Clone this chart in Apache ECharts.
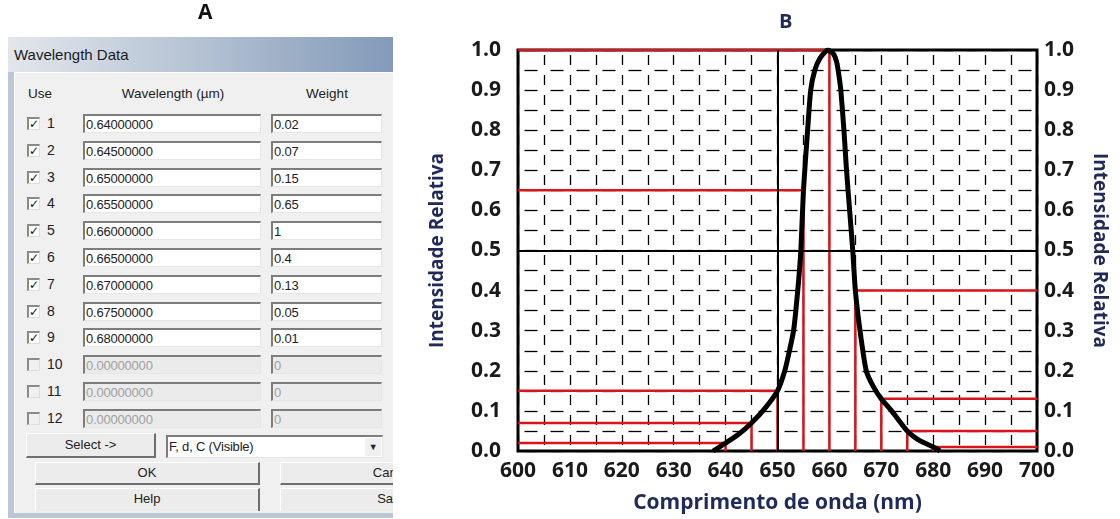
<!DOCTYPE html>
<html>
<head>
<meta charset="utf-8">
<script src="https://cdn.jsdelivr.net/npm/echarts@6/dist/echarts.min.js"></script>
<style>
  html, body { margin: 0; padding: 0; background: #fff; }
  #chart { position: absolute; left: 0; top: 0; width: 1120px; height: 519px; }
  #dlg {
    position: absolute; left: 8px; top: 37px; width: 385px; height: 481px;
    overflow: hidden; background: #b9c7d8;
    font-family: "Liberation Sans", "DejaVu Sans", sans-serif; font-size: 13px; color: #222;
  }
  .titlebar {
    position: absolute; left: 0; top: 0; width: 100%; height: 35px;
    background: linear-gradient(to right, #e3e7ec 0%, #b8c5d5 45%, #8299b8 100%);
    font-size: 15px; line-height: 35px; padding-left: 6px; color: #1a1a1a;
  }
  .client {
    position: absolute; left: 6px; top: 35px; width: 390px; height: 440px;
    background: #f0f0f0; border-left: 1px solid #fff; border-top: 1px solid #fff;
  }
  .abs { position: absolute; }
  .box {
    position: absolute; height: 19px; background: #fff; box-sizing: border-box;
    border-top: 2px solid #7d7d7d; border-left: 2px solid #7d7d7d;
    border-right: 1px solid #e6e6e6; border-bottom: 1px solid #e6e6e6;
    padding-left: 1px; line-height: 17px; font-size: 13px; color: #222; letter-spacing: -0.2px;
  }
  .box.off { background: #ebebeb; color: #a0a0a0; }
  .chk {
    position: absolute; width: 13px; height: 13px; box-sizing: border-box; background: #fff;
    border-top: 2px solid #8a8a8a; border-left: 2px solid #8a8a8a;
    border-right: 1px solid #ddd; border-bottom: 1px solid #ddd;
    font-size: 12px; line-height: 10px; text-align: center; color: #111; font-weight: bold;
  }
  .chk.off { background: #f0f0f0; }
  .btn {
    position: absolute; box-sizing: border-box; background: #ececec; text-align: center;
    border-top: 1px solid #fff; border-left: 1px solid #fff;
    border-right: 2px solid #6e6e6e; border-bottom: 2px solid #6e6e6e;
    font-size: 13px;
  }
</style>
</head>
<body>
<div id="chart"></div>
<div id="dlg">
  <div class="titlebar">Wavelength Data</div>
  <div class="client" id="client"></div>
</div>
<script>
// valores da caixa "Wavelength Data"
const wavelengthsUm = [0.64, 0.645, 0.65, 0.655, 0.66, 0.665, 0.67, 0.675, 0.68];
const weights = [0.02, 0.07, 0.15, 0.65, 1, 0.4, 0.13, 0.05, 0.01];
const rowCount = 12;

// curva do espectro
const curveNm = [637.6, 640, 642.5, 645, 647.5, 650, 651.4, 652.3, 653.1, 653.9, 654.5, 655, 655.8, 656.4, 657.2, 658.2, 659.7,
  660.8, 661.4, 661.8, 662.2, 662.8, 663.3, 663.9, 664.5, 665, 665.9, 667.1, 668.5, 670, 672, 675, 677.5, 680, 681.3];
const curveInt = [0, 0.02, 0.042, 0.07, 0.105, 0.15, 0.2, 0.25, 0.3, 0.4, 0.5, 0.65, 0.8, 0.9, 0.95, 0.98, 1.0,
  0.99, 0.97, 0.94, 0.9, 0.8, 0.7, 0.6, 0.5, 0.4, 0.3, 0.2, 0.16, 0.13, 0.1, 0.05, 0.025, 0.01, 0];

const xTicks = [600, 610, 620, 630, 640, 650, 660, 670, 680, 690, 700];

// ---- painel A (caixa de dialogo) ----
const client = document.getElementById('client');
const ox = 14, oy = 72; // origem da area cliente na pagina
function put(html) { client.insertAdjacentHTML('beforeend', html); }
put('<div class="abs" style="left:' + (27 - ox) + 'px;top:' + (85 - oy) + 'px;font-size:13.5px">Use</div>');
put('<div class="abs" style="left:' + (105 - ox) + 'px;width:134px;text-align:center;top:' + (85 - oy) + 'px;font-size:13.5px">Wavelength (\u00b5m)</div>');
put('<div class="abs" style="left:' + (291 - ox) + 'px;width:70px;text-align:center;top:' + (85 - oy) + 'px;font-size:13.5px">Weight</div>');
for (let i = 0; i < rowCount; i++) {
  const cy = 123 + i * 26.8 - oy;
  const on = i < wavelengthsUm.length;
  const wl = on ? wavelengthsUm[i].toFixed(8) : (0).toFixed(8);
  const wt = on ? String(weights[i]) : '0';
  put('<div class="chk' + (on ? '' : ' off') + '" style="left:' + (26 - ox) + 'px;top:' + (cy - 7) + 'px">' + (on ? '\u2713' : '') + '</div>');
  put('<div class="abs" style="left:' + (46 - ox) + 'px;top:' + (cy - 9) + 'px;font-size:14px">' + (i + 1) + '</div>');
  put('<div class="box' + (on ? '' : ' off') + '" style="left:' + (82 - ox) + 'px;width:178px;top:' + (cy - 10) + 'px">' + wl + '</div>');
  put('<div class="box' + (on ? '' : ' off') + '" style="left:' + (270 - ox) + 'px;width:111px;top:' + (cy - 10) + 'px">' + wt + '</div>');
}
put('<div class="btn" style="left:' + (25 - ox) + 'px;top:' + (432 - oy) + 'px;width:130px;height:25px;line-height:22px">Select -&gt;</div>');
put('<div class="box" style="left:' + (165 - ox) + 'px;top:' + (434 - oy) + 'px;width:217px;height:23px;line-height:20px">F, d, C (Visible)' +
  '<div style="position:absolute;right:1px;top:1px;width:16px;height:18px;background:#f0f0f0;text-align:center;font-size:9px;line-height:18px">\u25bc</div></div>');
put('<div class="btn" style="left:' + (34 - ox) + 'px;top:' + (461 - oy) + 'px;width:225px;height:23px;line-height:20px">OK</div>');
put('<div class="btn" style="left:' + (279 - ox) + 'px;top:' + (461 - oy) + 'px;width:225px;height:23px;line-height:20px;border-right:none">Cancel</div>');
put('<div class="btn" style="left:' + (34 - ox) + 'px;top:' + (487 - oy) + 'px;width:225px;height:23px;line-height:20px;border-bottom:none">Help</div>');
put('<div class="btn" style="left:' + (279 - ox) + 'px;top:' + (487 - oy) + 'px;width:225px;height:23px;line-height:20px;border-bottom:none">Save</div>');

// ---- painel B (grafico) ----
const chart = echarts.init(document.getElementById('chart'), null, { renderer: 'canvas' });

const redLines = wavelengthsUm.map(function (w, i) {
  const nm = Math.round(w * 1000);
  const side = nm <= 660 ? 600 : 700;
  return { coords: [[side, weights[i]], [nm, weights[i]], [nm, 0]] };
});

const labelStyle = { fontFamily: 'Open Sans', fontWeight: 'bold', fontSize: 21, color: '#1a1a1a' };
const yNameStyle = { fontFamily: 'Open Sans', fontWeight: 'bold', fontSize: 19, color: '#1f2a5a' };
const xNameStyle = { fontFamily: 'Open Sans', fontWeight: 'bold', fontSize: 21, color: '#1f2a5a' };
const dashX = { color: '#000', width: 1.3, type: [10, 10], dashOffset: 15 };
const dashY = { color: '#000', width: 1.3, type: [13, 13], dashOffset: 19.5 };

const option = {
  animation: false,
  backgroundColor: '#fff',
  graphic: [
    { type: 'text', left: 198, top: 3, style: { text: 'A', font: 'bold 21px "Open Sans"', fill: '#111' } },
    { type: 'text', left: 779, top: 12, style: { text: 'B', font: 'bold 20px "Open Sans"', fill: '#1f2a5a' } }
  ],
  grid: {
    left: 518, right: 83, top: 50, bottom: 68,
    show: true, borderColor: '#000', borderWidth: 3, backgroundColor: '#fff'
  },
  xAxis: {
    type: 'value', min: 600, max: 700, interval: 10,
    name: 'Comprimento de onda (nm)', nameLocation: 'middle', nameGap: 42, nameTextStyle: xNameStyle,
    axisLine: { show: false }, axisTick: { show: false },
    axisLabel: Object.assign({ margin: 10, customValues: xTicks }, labelStyle),
    splitLine: { show: true, lineStyle: dashX },
    minorTick: { show: false, splitNumber: 2 },
    minorSplitLine: { show: true, lineStyle: dashX }
  },
  yAxis: [
    {
      type: 'value', min: 0, max: 1, interval: 0.1, position: 'left',
      name: 'Intensidade Relativa', nameLocation: 'middle', nameGap: 71, nameRotate: 90, nameTextStyle: yNameStyle,
      axisLine: { show: false }, axisTick: { show: false },
      axisLabel: Object.assign({ margin: 17, formatter: v => v.toFixed(1) }, labelStyle),
      splitLine: { show: true, lineStyle: dashY },
      minorTick: { show: false, splitNumber: 2 },
      minorSplitLine: { show: true, lineStyle: dashY }
    },
    {
      type: 'value', min: 0, max: 1, interval: 0.1, position: 'right',
      name: 'Intensidade Relativa', nameLocation: 'middle', nameGap: 53, nameRotate: -90, nameTextStyle: yNameStyle,
      axisLine: { show: false }, axisTick: { show: false },
      axisLabel: Object.assign({ margin: 7, formatter: v => v.toFixed(1) }, labelStyle),
      splitLine: { show: false }
    }
  ],
  series: [
    {
      type: 'lines', coordinateSystem: 'cartesian2d', polyline: true, silent: true, z: 3,
      lineStyle: { color: '#d9141a', width: 2.5, opacity: 1 },
      data: redLines
    },
    {
      type: 'line', z: 4, smooth: 0.2, showSymbol: false, silent: true,
      lineStyle: { color: '#000', width: 5 },
      data: curveNm.map((x, i) => [x, curveInt[i]]),
      markLine: {
        silent: true, symbol: 'none', label: { show: false },
        lineStyle: { color: '#000', type: 'solid', width: 2 },
        data: [{ xAxis: 650 }, { yAxis: 0.5 }]
      }
    }
  ]
};
chart.setOption(option);
</script>
</body>
</html>
